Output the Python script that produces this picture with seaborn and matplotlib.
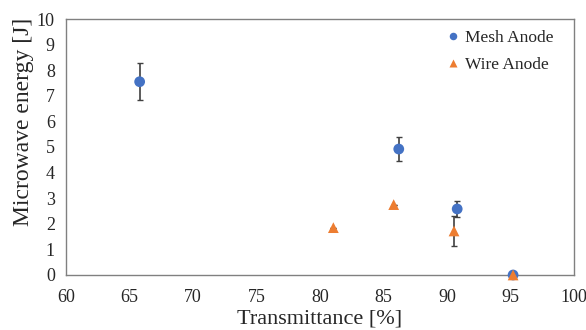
import pandas as pd
import numpy as np
import matplotlib
matplotlib.use('Agg')
import matplotlib.pyplot as plt
import seaborn as sns
from matplotlib.ticker import MultipleLocator

# dados
mesh_x = [65.8, 86.2, 90.8, 95.2]
mesh_y = [7.55, 4.92, 2.58, 0.0]
mesh_err = [0.72, 0.47, 0.3, 0.0]

wire_x = [81.05, 85.8, 90.55, 95.2]
wire_y = [1.85, 2.75, 1.72, 0.0]
wire_err = [0.0, 0.0, 0.58, 0.0]

series = ['Mesh Anode', 'Wire Anode']

df = pd.DataFrame({
    'Transmittance': mesh_x + wire_x,
    'Energy': mesh_y + wire_y,
    'Anode': [series[0]] * len(mesh_x) + [series[1]] * len(wire_x),
})

sns.set_style('white')
plt.rcParams['font.family'] = ['Liberation Serif', 'DejaVu Serif']

fig = plt.figure(figsize=(5.86, 3.30), dpi=100)
ax = fig.add_axes([0.1126, 0.1667, 0.867, 0.7757])

# barras de erro primeiro
ax.errorbar(mesh_x, mesh_y, yerr=mesh_err, fmt='none', ecolor='#404040',
            elinewidth=1.2, capsize=2, capthick=1, zorder=2)
ax.errorbar(wire_x, wire_y, yerr=wire_err, fmt='none', ecolor='#404040',
            elinewidth=1.2, capsize=2, capthick=1, zorder=2)

sns.scatterplot(data=df, x='Transmittance', y='Energy', hue='Anode', style='Anode',
                markers={'Mesh Anode': 'o', 'Wire Anode': '^'},
                palette={'Mesh Anode': '#4472C4', 'Wire Anode': '#ED7D31'},
                s=60, edgecolor='none', ax=ax, zorder=3, clip_on=False)

ax.set_xlim(60, 100)
ax.set_ylim(0, 10)
ax.xaxis.set_major_locator(MultipleLocator(5))
ax.xaxis.set_minor_locator(MultipleLocator(1))
ax.yaxis.set_major_locator(MultipleLocator(1))
ax.yaxis.set_minor_locator(MultipleLocator(0.5))
ax.tick_params(axis='both', which='both', direction='in', length=4, width=0.8,
               color='#404040', labelsize=13)
ax.tick_params(axis='x', which='major', pad=10)
ax.tick_params(axis='y', which='major', pad=8)
for s in ax.spines.values():
    s.set_color('#808080')
    s.set_linewidth(1)

ax.set_xlabel('Transmittance [%]', fontsize=16, labelpad=2.5)
ax.set_ylabel('Microwave energy [J]', fontsize=17)
ax.yaxis.set_label_coords(-0.062, 0.6)

leg = ax.legend(loc='upper right', bbox_to_anchor=(0.98, 1.0), frameon=False,
                fontsize=12.5, markerscale=0.7, handletextpad=-0.3,
                borderaxespad=0.2, labelspacing=0.65)

fig.savefig('out.png', dpi=100)
